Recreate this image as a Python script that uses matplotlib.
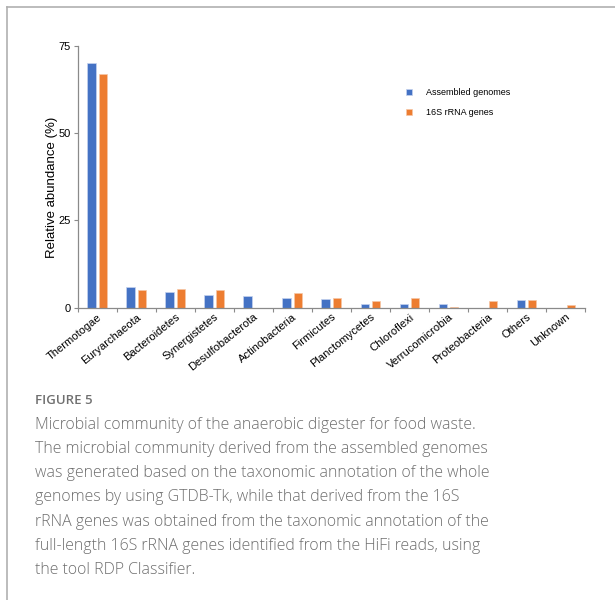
import numpy as np
import matplotlib.pyplot as plt
from matplotlib.lines import Line2D

phyla = ['Thermotogae', 'Euryarchaeota', 'Bacteroidetes', 'Synergistetes',
         'Desulfobacterota', 'Actinobacteria', 'Firmicutes', 'Planctomycetes',
         'Chloroflexi', 'Verrucomicrobia', 'Proteobacteria', 'Others', 'Unknown']
assembled = [70.2, 5.8, 4.6, 3.7, 3.4, 2.9, 2.4, 1.1, 1.1, 1.1, 0.0, 2.1, 0.0]
rrna_16s = [66.9, 5.0, 5.4, 5.0, 0.0, 4.3, 2.9, 1.8, 2.7, 0.3, 1.8, 2.1, 0.8]
yticks = [0, 25, 50, 75]

caption_title = 'FIGURE 5'
caption = ('Microbial community of the anaerobic digester for food waste.\n'
           'The microbial community derived from the assembled genomes\n'
           'was generated based on the taxonomic annotation of the whole\n'
           'genomes by using GTDB-Tk, while that derived from the 16S\n'
           'rRNA genes was obtained from the taxonomic annotation of the\n'
           'full-length 16S rRNA genes identified from the HiFi reads, using\n'
           'the tool RDP Classifier.')

blue = '#4472C4'
orange = '#ED7D31'
axis_grey = '#8a8a8a'

plt.rcParams['font.family'] = ['Liberation Sans', 'DejaVu Sans']

fig = plt.figure(figsize=(6.15, 6.0), dpi=100)

# card border (top + left only, the rest is cropped)
fig.add_artist(Line2D([7 / 615, 7 / 615], [0, 1 - 6.5 / 600], color='#b0b0b0', lw=1.2))
fig.add_artist(Line2D([7 / 615, 1], [1 - 6.5 / 600, 1 - 6.5 / 600], color='#b0b0b0', lw=1.2))

ax = fig.add_axes([77.7 / 615, 292.3 / 600, 507.3 / 615, 261.7 / 600])
x = np.arange(len(phyla))
w = 0.215
b1 = ax.bar(x - 0.145, assembled, w, color=blue, edgecolor='#c5d3ee', linewidth=0.5,
            label='Assembled genomes')
b2 = ax.bar(x + 0.145, rrna_16s, w, color=orange, edgecolor='#f6c7a6', linewidth=0.5,
            label='16S rRNA genes')

ax.set_xlim(-0.5, len(phyla) - 0.5)
ax.set_ylim(0, 75)
ax.set_yticks(yticks)
ax.tick_params(axis='y', labelsize=8, length=3, width=0.8, color=axis_grey, pad=2)
ax.set_xticks(np.arange(len(phyla) + 1) - 0.5)
ax.set_xticklabels([])
ax.set_xticks(x, minor=True)
ax.set_xticklabels(phyla, minor=True, rotation=39, ha='right', rotation_mode='anchor',
                   fontsize=8)
ax.tick_params(axis='x', which='major', length=3, width=0.8, color=axis_grey)
ax.tick_params(axis='x', which='minor', length=0, pad=3)
for s in ['top', 'right']:
    ax.spines[s].set_visible(False)
for s in ['left', 'bottom']:
    ax.spines[s].set_color(axis_grey)
    ax.spines[s].set_linewidth(0.9)
ax.set_ylabel('Relative abundance (%)', fontsize=9.5)
ax.yaxis.set_label_coords(-0.039, 0.46)

ax.legend(handles=[b1, b2], loc='upper left', bbox_to_anchor=(406 / 615, 1 - 88 / 600),
          bbox_transform=fig.transFigure, frameon=False, fontsize=6.5,
          handlelength=0.7, handleheight=0.7, handletextpad=1.5, labelspacing=1.2,
          borderpad=0, borderaxespad=0)

fig.text(35 / 615, 1 - 400 / 600, caption_title, fontsize=9.5, color='#707070',
         family=['Open Sans', 'DejaVu Sans'], fontweight='semibold', va='center')
fig.text(35 / 615, 1 - 417 / 600, caption, fontsize=11.4, color='#6e6e6e',
         family=['Open Sans', 'DejaVu Sans'], fontweight='light', va='top',
         linespacing=1.68)

fig.savefig('out.png', dpi=100)
